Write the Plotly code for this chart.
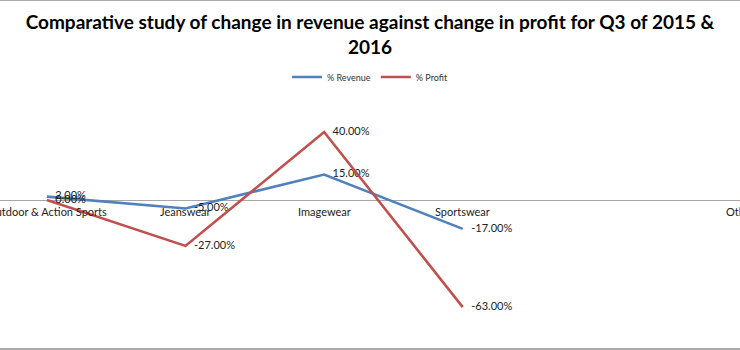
import plotly.graph_objects as go

categories = ["Outdoor & Action Sports", "Jeanswear", "Imagewear", "Sportswear", "", "Other"]
revenue = [2, -5, 15, -17, None, None]
profit = [0, -27, 40, -63, None, None]
rev_labels = ["2.00%", "-5.00%", "15.00%", "-17.00%", "", ""]
prof_labels = ["0.00%", "-27.00%", "40.00%", "-63.00%", "", ""]

xs = list(range(len(categories)))
BLUE = "#4F81BD"
RED = "#C0504D"
FONT = "Lato"

fig = go.Figure()
fig.add_trace(go.Scatter(
    x=xs, y=revenue, mode="lines+markers+text", name="% Revenue",
    line=dict(color=BLUE, width=2.6),
    marker=dict(size=12, color="rgba(0,0,0,0)"),
    text=rev_labels, textposition="middle right",
    textfont=dict(family=FONT, size=11, color="#222222"),
    cliponaxis=False,
))
fig.add_trace(go.Scatter(
    x=xs, y=profit, mode="lines+markers+text", name="% Profit",
    line=dict(color=RED, width=2.6),
    marker=dict(size=12, color="rgba(0,0,0,0)"),
    text=prof_labels, textposition="middle right",
    textfont=dict(family=FONT, size=11, color="#222222"),
    cliponaxis=False,
))

for i, c in enumerate(categories):
    if c:
        fig.add_annotation(x=i, y=0, xref="x", yref="y", text=c, showarrow=False,
                           yanchor="top", yshift=-3,
                           font=dict(family=FONT, size=11, color="#222222"))

fig.update_layout(
    width=740, height=350,
    margin=dict(l=0, r=0, t=1, b=2),
    paper_bgcolor="white", plot_bgcolor="white",
    title=dict(
        text="<b>Comparative study of change in revenue against change in profit for Q3 of 2015 &amp;<br>2016</b>",
        x=0.5, xanchor="center", y=1 - 29 / 350, yanchor="middle",
        font=dict(family=FONT, size=19, color="#000000"),
    ),
    legend=dict(orientation="h", x=0.5, xanchor="center", y=0.781, yanchor="middle",
                font=dict(family=FONT, size=9, color="#333333"), bgcolor="rgba(0,0,0,0)",
                itemwidth=30),
    showlegend=True,
)
fig.update_xaxes(range=[-0.338, 5.0], showticklabels=False, showgrid=False, zeroline=False,
                 showline=True, mirror=True, linecolor="#AAAAAA", linewidth=2, fixedrange=True)
fig.update_yaxes(range=[-(348 - 200) / 1.7, (200 - 1) / 1.7], showticklabels=False, showgrid=False,
                 zeroline=True, zerolinecolor="#A6A6A6", zerolinewidth=1, showline=False)

fig.write_html("out.html")
